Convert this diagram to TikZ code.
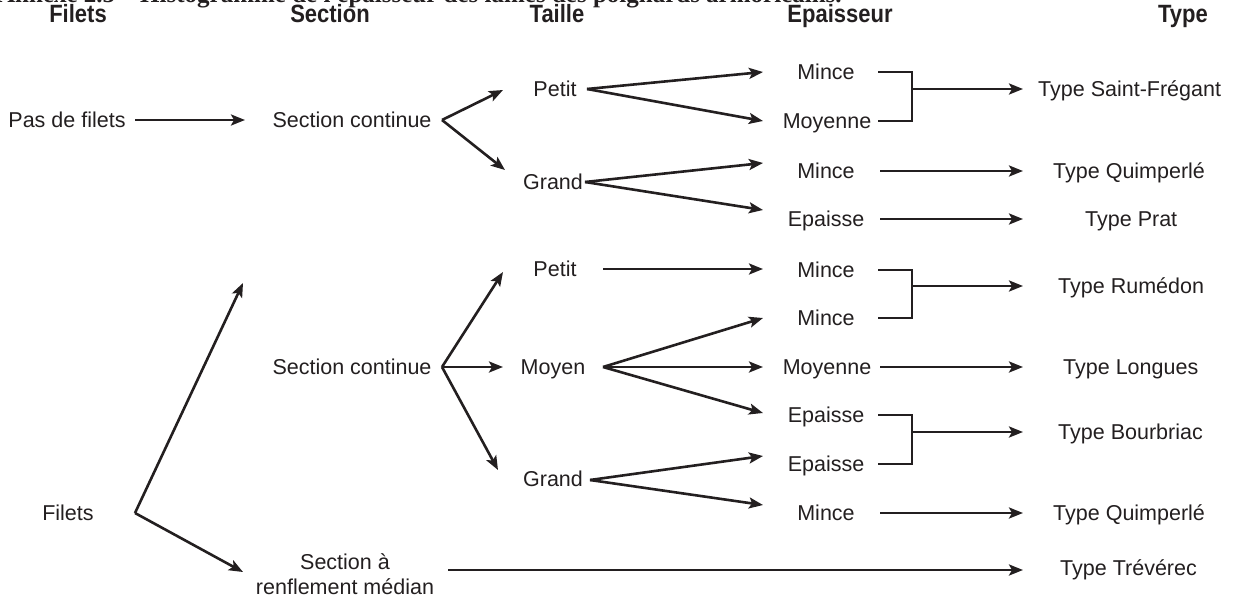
\documentclass[tikz,border=0pt]{standalone}
\usepackage{fontspec}
\setmainfont{Liberation Sans}
\newfontfamily\hdrfont[FakeStretch=0.88]{Liberation Sans}
\newfontfamily\ttlfont{Liberation Serif}
\usetikzlibrary{arrows.meta}
\definecolor{ink}{RGB}{35,31,32}
\begin{document}
\begin{tikzpicture}[x=1pt,y=-1pt,
  lbl/.style={inner sep=0pt,text height=15pt,text depth=0pt,text=ink,font=\fontsize{21.5pt}{25pt}\selectfont},
  hdr/.style={inner sep=0pt,text height=18pt,text depth=0pt,text=ink,font=\hdrfont\bfseries\fontsize{25pt}{28pt}\selectfont},
  conn/.style={draw=ink,line width=2.6pt},
  arr/.style={conn,-{Stealth[length=14pt,width=11pt,inset=3pt]}}]
\useasboundingbox (0,0) rectangle (1233,602);
\begin{scope}
\clip (0,0) rectangle (1233,602);
\node[anchor=base west,inner sep=0pt,text=ink,font=\ttlfont\bfseries\fontsize{25pt}{28pt}\selectfont] (title) at (-3,3) {Annexe 2.5 – Histogramme de l'épaisseur des lames des poignards armoricains.};
\end{scope}
% headers
\node[hdr] (hFilets) at (78,14) {Filets};
\node[hdr] (hSection) at (330,14) {Section};
\node[hdr] (hTaille) at (557,14) {Taille};
\node[hdr] (hEpais) at (840,14) {Epaisseur};
\node[hdr] (hType) at (1183,14) {Type};
% column 1
\node[lbl] (pas) at (67,120) {Pas de filets};
\node[lbl] (fil) at (68,513) {Filets};
% column 2
\node[lbl] (sc1) at (352,120) {Section continue};
\node[lbl] (sc2) at (352,367) {Section continue};
\node[inner sep=0pt,text=ink,align=center,font=\fontsize{21.5pt}{25pt}\selectfont] (sr) at (345,574) {Section à\\renflement médian};
% column 3
\node[lbl] (p1) at (555,89) {Petit};
\node[lbl] (g1) at (553,182) {Grand};
\node[lbl] (p2) at (555,269) {Petit};
\node[lbl] (m2) at (553,367) {Moyen};
\node[lbl] (g2) at (553,479) {Grand};
% column 4
\node[lbl] (e1) at (826,72) {Mince};
\node[lbl] (e2) at (827,121) {Moyenne};
\node[lbl] (e3) at (826,171) {Mince};
\node[lbl] (e4) at (826,219) {Epaisse};
\node[lbl] (e5) at (826,270) {Mince};
\node[lbl] (e6) at (826,318) {Mince};
\node[lbl] (e7) at (827,367) {Moyenne};
\node[lbl] (e8) at (826,415) {Epaisse};
\node[lbl] (e9) at (826,464) {Epaisse};
\node[lbl] (e10) at (826,513) {Mince};
% column 5
\node[lbl,anchor=west] (t1) at (1038,89) {Type Saint-Frégant};
\node[lbl,anchor=west] (t2) at (1053,171) {Type Quimperlé};
\node[lbl,anchor=west] (t3) at (1085,219) {Type Prat};
\node[lbl,anchor=west] (t4) at (1058,286) {Type Rumédon};
\node[lbl,anchor=west] (t5) at (1063,367) {Type Longues};
\node[lbl,anchor=west] (t6) at (1058,432) {Type Bourbriac};
\node[lbl,anchor=west] (t7) at (1053,513) {Type Quimperlé};
\node[lbl,anchor=west] (t8) at (1060,568) {Type Trévérec};
% vertices and tips
\coordinate (vpas) at (135,120);
\coordinate (sc1in) at (245,120);
\coordinate (vsc1) at (442,120);
\coordinate (p1in) at (503,90);
\coordinate (g1in) at (505,170);
\coordinate (vp1) at (587,89);
\coordinate (vg1) at (585,182);
\coordinate (e1in) at (763,72);
\coordinate (e2in) at (763,121);
\coordinate (e3in) at (763,163);
\coordinate (e4in) at (763,210);
\coordinate (vsc2) at (442,367);
\coordinate (p2in) at (503,272);
\coordinate (m2in) at (503,367);
\coordinate (g2in) at (498,470);
\coordinate (vp2) at (603,269);
\coordinate (vm2) at (603,367);
\coordinate (vg2) at (590,480);
\coordinate (e5in) at (763,269);
\coordinate (e6in) at (763,318);
\coordinate (e7in) at (763,367);
\coordinate (e8in) at (763,413);
\coordinate (e9in) at (763,456);
\coordinate (e10in) at (763,505);
\coordinate (vfil) at (135,513);
\coordinate (sc2in) at (243,283);
\coordinate (srin) at (243,572);
\coordinate (srout) at (448,570);
\coordinate (b1) at (912,89);
\coordinate (b2) at (912,286);
\coordinate (b3) at (912,432);
\coordinate (t1in) at (1023,89);
\coordinate (t2in) at (1023,171);
\coordinate (t3in) at (1023,219);
\coordinate (t4in) at (1023,286);
\coordinate (t5in) at (1023,367);
\coordinate (t6in) at (1023,432);
\coordinate (t7in) at (1023,513);
\coordinate (t8in) at (1023,570);
% top part
\draw[arr] (vpas) -- (sc1in);
\draw[arr] (vsc1) -- (p1in);
\draw[arr] (vsc1) -- (g1in);
\draw[arr] (vp1) -- (e1in);
\draw[arr] (vp1) -- (e2in);
\draw[arr] (vg1) -- (e3in);
\draw[arr] (vg1) -- (e4in);
\draw[conn] (878,72) -| (b1) |- (878,121);
\draw[arr] (b1) -- (t1in);
\draw[arr] (880,171) -- (t2in);
\draw[arr] (880,219) -- (t3in);
% bottom part
\draw[arr] (vfil) -- (sc2in);
\draw[arr] (vfil) -- (srin);
\draw[arr] (vsc2) -- (p2in);
\draw[arr] (vsc2) -- (m2in);
\draw[arr] (vsc2) -- (g2in);
\draw[arr] (vp2) -- (e5in);
\draw[arr] (vm2) -- (e6in);
\draw[arr] (vm2) -- (e7in);
\draw[arr] (vm2) -- (e8in);
\draw[arr] (vg2) -- (e9in);
\draw[arr] (vg2) -- (e10in);
\draw[conn] (878,270) -| (b2) |- (878,318);
\draw[arr] (b2) -- (t4in);
\draw[arr] (880,367) -- (t5in);
\draw[conn] (878,415) -| (b3) |- (878,464);
\draw[arr] (b3) -- (t6in);
\draw[arr] (880,513) -- (t7in);
\draw[arr] (srout) -- (t8in);
\end{tikzpicture}
\end{document}
